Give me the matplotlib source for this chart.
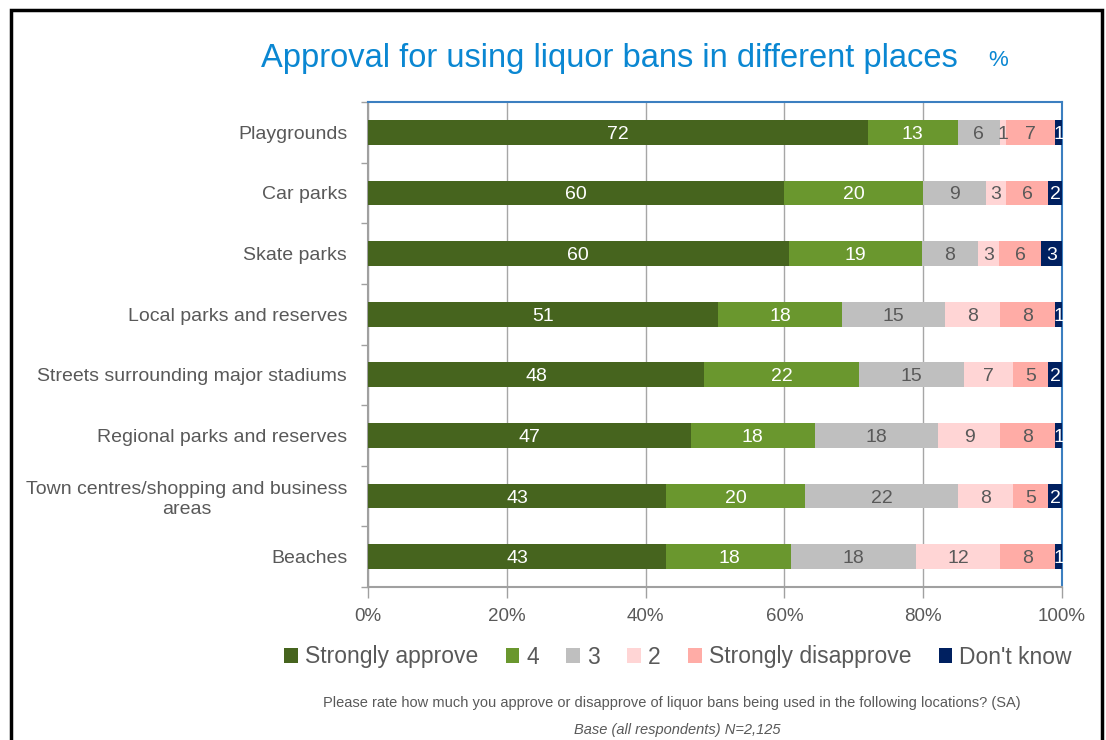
import matplotlib
matplotlib.use("Agg")
import matplotlib.pyplot as plt
from matplotlib.patches import Rectangle, Patch
import numpy as np

plt.rcParams['font.family'] = ['Liberation Sans', 'DejaVu Sans']

categories = [
    "Playgrounds",
    "Car parks",
    "Skate parks",
    "Local parks and reserves",
    "Streets surrounding major stadiums",
    "Regional parks and reserves",
    "Town centres/shopping and business\nareas",
    "Beaches",
]
series_names = ["Strongly approve", "4", "3", "2", "Strongly disapprove", "Don't know"]
strongly_approve = [72, 60, 60, 51, 48, 47, 43, 43]
rating_4 = [13, 20, 19, 18, 22, 18, 20, 18]
rating_3 = [6, 9, 8, 15, 15, 18, 22, 18]
rating_2 = [1, 3, 3, 8, 7, 9, 8, 12]
strongly_disapprove = [7, 6, 6, 8, 5, 8, 5, 8]
dont_know = [1, 2, 3, 1, 2, 1, 2, 1]
x_ticks = [0, 20, 40, 60, 80, 100]
x_tick_labels = ["0%", "20%", "40%", "60%", "80%", "100%"]

colors = ["#46641e", "#6a972e", "#bfbfbf", "#ffd5d5", "#ffaca6", "#002060"]
text_colors = ["white", "white", "#595959", "#595959", "#595959", "white"]
grey = "#595959"

values = np.array([strongly_approve, rating_4, rating_3, rating_2,
                   strongly_disapprove, dont_know], dtype=float)
shares = values / values.sum(axis=0) * 100

W, H = 1106, 740
fig = plt.figure(figsize=(W / 100, H / 100), dpi=100)
ax_l, ax_r, ax_t, ax_b = 368, 1062, 102, 587
ax = fig.add_axes([ax_l / W, 1 - ax_b / H, (ax_r - ax_l) / W, (ax_b - ax_t) / H])

y = np.arange(len(categories))
left = np.zeros(len(categories))
for i, name in enumerate(series_names):
    bars = ax.barh(y, shares[i], left=left, height=0.41, color=colors[i],
                   label=name, zorder=3)
    for j, b in enumerate(bars):
        cx = left[j] + shares[i][j] / 2
        ax.text(cx, y[j], f"{int(values[i][j])}", ha="center",
                va="center_baseline", color=text_colors[i], fontsize=14,
                zorder=4)
    left += shares[i]

ax.set_xlim(0, 100)
ax.set_ylim(len(categories) - 0.5, -0.5)
ax.set_xticks(x_ticks)
ax.set_xticklabels(x_tick_labels, fontsize=13.5, color=grey)
ax.xaxis.grid(True, color="#a6a6a6", lw=1, zorder=0)
ax.set_yticks(y)
ax.set_yticklabels(categories, fontsize=14, color=grey, ha="right",
                   va="center_baseline", multialignment="center",
                   linespacing=1.2)
ax.tick_params(axis="y", length=0, pad=15)
ax.set_yticks(np.arange(-0.5, len(categories), 1), minor=True)
ax.tick_params(axis="y", which="minor", length=5, color="#a0a0a0", width=1)
ax.tick_params(axis="x", length=8, color="#a0a0a0", width=1, pad=7)

for side in ["left", "bottom"]:
    ax.spines[side].set_color("#a0a0a0")
    ax.spines[side].set_linewidth(1.5)
for side in ["top", "right"]:
    ax.spines[side].set_color("#3b7fc0")
    ax.spines[side].set_linewidth(1.5)

fig.text(609.5 / W, 1 - 58 / H, "Approval for using liquor bans in different places",
         ha="center", va="center", fontsize=23.5, color="#0a87d2")
fig.text(998 / W, 1 - 60 / H, "%", ha="center", va="center", fontsize=16,
         color="#0a87d2")

handles = [Patch(facecolor=c, edgecolor="none") for c in colors]
fig.legend(handles, series_names, loc="center", bbox_to_anchor=(678 / W, 1 - 657 / H),
           ncol=6, frameon=False, fontsize=16.5, handlelength=0.6,
           handleheight=0.6, handletextpad=0.3, columnspacing=1.2,
           labelcolor=grey)

fig.text(672 / W, 1 - 703 / H, "Please rate how much you approve or disapprove of liquor bans "
         "being used in the following locations? (SA)", ha="center", va="center",
         fontsize=10.5, color=grey)
fig.text(677 / W, 1 - 730 / H, "Base (all respondents) N=2,125", ha="center",
         va="center", fontsize=10.5, color=grey, style="italic")

fig.patches.append(Rectangle((11 / W, -0.05), (1102 - 11) / W, 1.05 - 10 / H,
                             transform=fig.transFigure, fill=False,
                             edgecolor="black", lw=2.5))

fig.savefig("out.png", dpi=100)
